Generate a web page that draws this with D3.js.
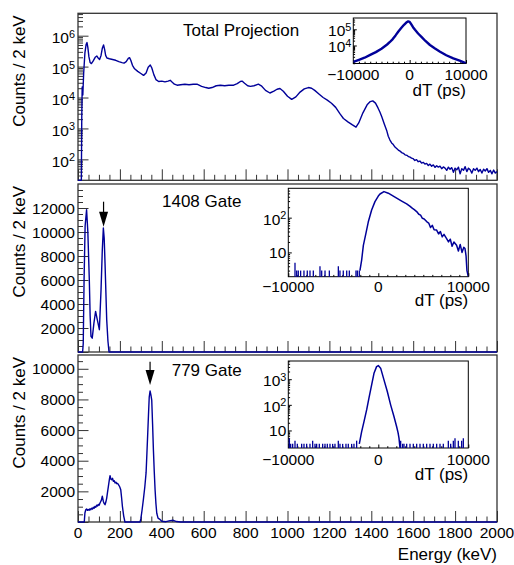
<!DOCTYPE html>
<html>
<head>
<meta charset="utf-8">
<script src="https://cdn.jsdelivr.net/npm/d3@7/dist/d3.min.js"></script>
<style>
  body { margin: 0; background: #fff; }
  text { font-family: "Liberation Sans", Arial, Helvetica, sans-serif; fill: #000; }
</style>
</head>
<body>
<div id="chart"></div>
<script>
// ---- values: [energy keV, counts / 2 keV] ----
var energyTicks = [0, 200, 400, 600, 800, 1000, 1200, 1400, 1600, 1800, 2000];

var totalProjection = [
  [0,15],[16,15],[18,2500],[20,22000],[23,12000],[27,60000],[33,280000],[39,530000],[43,600000],
  [47,420000],[52,210000],[58,135000],[64,125000],[72,150000],[82,200000],[90,220000],[96,190000],
  [103,170000],[110,230000],[116,390000],[122,500000],[127,360000],[132,230000],[138,190000],
  [150,180000],[165,170000],[180,160000],[195,145000],[210,135000],[220,130000],[230,145000],
  [240,185000],[246,195000],[252,160000],[260,110000],[270,85000],[285,70000],[300,60000],
  [313,52000],[325,62000],[335,95000],[345,112000],[352,92000],[362,55000],[372,38000],
  [385,33000],[400,34000],[415,32000],[430,34000],[440,36000],[450,31000],[460,27000],
  [473,25000],[490,26000],[510,27000],[530,26000],[550,27000],[568,27000],[590,23000],
  [610,21000],[624,20000],[640,21000],[660,24000],[680,25000],[700,24000],[720,25000],
  [743,25000],[760,28000],[775,33000],[783,34000],[795,29000],[810,24000],[823,23000],
  [840,24000],[861,27000],[875,24000],[895,17000],[916,14000],[935,16000],[950,18500],
  [964,19500],[980,16000],[1000,11000],[1020,8700],[1040,10500],[1060,15000],[1080,19000],
  [1100,21000],[1115,20000],[1130,17000],[1150,13000],[1170,10000],[1190,8200],[1210,6500],
  [1230,4800],[1250,3000],[1267,2100],[1290,1600],[1310,1300],[1327,1100],[1340,1500],
  [1360,3200],[1380,5800],[1395,7400],[1407,7800],[1420,6600],[1432,4600],[1441,3400],
  [1450,2400],[1462,1400],[1473,880],[1481,560],[1489,420],[1497,340],[1505,300],[1513,250],
  [1521,225],[1529,200],[1537,185],[1545,165],[1553,157],[1561,140],[1570,135],[1578,122],
  [1585,118],[1592,110],[1600,105],[1608,92],[1616,98],[1624,84],[1632,88],[1640,76],
  [1648,80],[1656,70],[1664,74],[1672,63],[1680,70],[1688,60],[1696,66],[1704,55],[1712,62],
  [1720,56],[1728,60],[1736,50],[1744,57],[1752,52],[1760,44],[1768,56],[1776,48],[1784,54],
  [1792,38],[1800,52],[1808,46],[1816,56],[1824,34],[1832,50],[1840,44],[1848,58],[1856,40],
  [1864,52],[1872,46],[1880,36],[1888,50],[1896,44],[1904,52],[1912,40],[1920,47],[1928,36],
  [1936,48],[1944,42],[1952,50],[1960,38],[1968,44],[1976,34],[1984,45],[1992,36],[2000,40]
];

var gate1408 = [
  [0,0],[22,0],[25,700],[29,6000],[34,10500],[41,11860],[47,10000],[54,6000],[58,3000],
  [62,1300],[68,1150],[76,2400],[84,3380],[92,2700],[102,1860],[110,5200],[116,8500],
  [121,10330],[125,9500],[129,7400],[137,2700],[143,900],[148,0],[2000,0]
];

var gate779 = [
  [0,0],[30,0],[33,590],[37,800],[41,850],[45,760],[49,820],[53,760],[57,860],[61,800],
  [65,900],[69,840],[73,960],[77,900],[81,1020],[85,960],[89,1100],[93,1040],[97,1150],
  [101,1100],[105,1240],[111,1400],[116,1680],[121,1340],[125,1200],[129,1130],[133,1300],
  [137,1560],[141,1950],[145,2330],[150,2800],[153,3020],[157,2800],[161,2760],[165,2850],
  [169,2650],[173,2700],[177,2550],[181,2600],[185,2500],[189,2520],[193,2440],[199,2300],
  [204,2110],[208,1600],[212,1020],[218,400],[224,0],[296,0],[300,200],[306,800],[312,1460],
  [319,2300],[325,3220],[329,4500],[333,5830],[337,7200],[340,8160],[344,8550],[348,8300],
  [352,7950],[356,6400],[360,4690],[364,3300],[368,2090],[372,1200],[376,570],[382,250],
  [389,190],[400,50],[420,20],[440,90],[455,110],[470,30],[490,0],[2000,0]
];

// ---- inset time spectra: [dT ps, counts] ----
var dtTicks = [-10000, 0, 10000];

var dtTotal = [
  [-10000,970],[-9000,1300],[-8000,1750],[-7000,2600],[-6000,3900],[-5000,6300],[-4000,11500],
  [-3500,16500],[-3000,25000],[-2500,42000],[-2000,73000],[-1500,120000],[-1000,190000],
  [-600,260000],[-250,310000],[0,290000],[300,200000],[600,135000],[950,93000],[1500,55000],
  [2140,33000],[2800,19000],[3600,10700],[4500,6500],[5400,4100],[6500,2500],[7750,1590],
  [9000,1100],[9820,850],[10000,800]
];

var dt1408 = [
  [-2040,3],[-1850,6],[-1660,16],[-1370,36],[-1110,76],[-740,167],[-370,290],[0,420],
  [190,480],[630,563],[1110,505],[2040,363],[2600,300],[3150,250],[3500,215],[3800,185],
  [4000,170],[4260,150],[4500,125],[4700,118],[4900,96],[5100,92],[5370,77],[5600,70],
  [5800,52],[6000,60],[6200,45],[6480,44],[6700,34],[6900,40],[7100,28],[7300,33],[7590,25],
  [7800,20],[8000,24],[8200,15],[8400,20],[8700,16],[8900,11],[9100,17],[9300,10],[9500,14],
  [9630,13],[9750,8],[9850,3],[10000,2]
];
var dt1408Noise = [
  [-9256,5],[-9070,3],[-8890,3],[-8630,3],[-8260,3],[-7890,3],[-7590,3],[-7220,3],[-6480,4],
  [-6290,3],[-5920,3],[-5440,3],[-4440,4],[-4260,3],[-3890,3],[-3510,3],[-3220,3],[-2480,3],
  [-2330,3],[-2110,3]
];

var dt779 = [
  [-2110,3],[-1850,9],[-1590,22],[-1290,65],[-1040,182],[-780,515],[-480,1700],[-190,3100],
  [0,3400],[260,2700],[630,940],[1000,330],[1370,100],[1740,35],[2040,14],[2200,8],
  [2300,5],[2410,2]
];
var dt779Noise = [
  [-9886,5],[-9737,3],[-9515,3],[-9256,4],[-8997,3],[-8516,3],[-8257,3],[-7960,3],[-7590,3],
  [-7294,4],[-7035,3],[-6850,3],[-6554,3],[-6183,3],[-5924,3],[-5665,3],[-5369,3],[-5073,3],
  [-4814,3],[-4443,4],[-4258,3],[-3962,3],[-3592,3],[-3333,3],[-2962,3],[-2703,3],[-2407,4],
  [2485,4],[2707,3],[2855,3],[3152,3],[3522,3],[3892,3],[4263,3],[4633,3],[5003,3],[5374,3],
  [5744,3],[6114,3],[6485,3],[6855,3],[7225,3],[7781,4],[8040,3],[8337,4],[8522,5],[8892,4],
  [9263,4],[9448,5]
];

// ---- drawing ----
var W = 514, H = 565;
var blue = "#000099", frameCol = "#333";
var svg = d3.select("#chart").append("svg").attr("width", W).attr("height", H);

var x = d3.scaleLinear().domain([0, 2000]).range([78, 497]);

var panels = [
  { data: totalProjection, top: 13.3, bottom: 180.3,
    y: d3.scaleLog().domain([21, 5.3e6]).range([180.3, 13.3]),
    log: true, exps: [2, 3, 4, 5, 6], title: "Total Projection", tx: 183, ty: 36 },
  { data: gate1408, top: 184, bottom: 352,
    y: d3.scaleLinear().domain([0, 14000]).range([352, 184]),
    labels: [2000, 4000, 6000, 8000, 10000, 12000], title: "1408 Gate", tx: 162, ty: 206.7,
    arrow: { e: 122, from: 12525, to: 10440 } },
  { data: gate779, top: 355, bottom: 522,
    y: d3.scaleLinear().domain([0, 10900]).range([522, 355]),
    labels: [2000, 4000, 6000, 8000, 10000], title: "779 Gate", tx: 171.7, ty: 375.7,
    arrow: { e: 344, from: 10463, to: 8943 } }
];

function ticks(g, axis, values, size, col) {
  g.call(axis.tickValues(values).tickSize(size).tickFormat(""));
  g.select(".domain").remove();
  g.selectAll("text").remove();
  g.selectAll("line").attr("stroke", col).attr("stroke-width", 1);
}

function powLabel(g, xp, yp, exp, size) {
  var t = g.append("text").attr("x", xp).attr("y", yp).attr("text-anchor", "end").attr("font-size", size);
  t.append("tspan").text("10");
  if (exp !== 1) t.append("tspan").attr("dy", -5.5).attr("font-size", size * 0.7).text(exp);
}

function logMinors(dom) {
  var out = [];
  for (var k = -1; k < 8; k++) for (var m = 2; m <= 9; m++) {
    var v = m * Math.pow(10, k);
    if (v > dom[0] && v < dom[1]) out.push(v);
  }
  return out;
}

panels.forEach(function(p, i) {
  var g = svg.append("g");
  var dom = p.y.domain();

  // ticks (inward, ROOT style)
  var majX = d3.range(0, 2001, 200), minX = d3.range(0, 2001, 50).filter(function(v) { return v % 200; });
  ticks(g.append("g").attr("transform", "translate(0," + p.bottom + ")"), d3.axisBottom(x), majX, -11, frameCol);
  ticks(g.append("g").attr("transform", "translate(0," + p.bottom + ")"), d3.axisBottom(x), minX, -5.5, frameCol);
  if (p.log) {
    ticks(g.append("g").attr("transform", "translate(78,0)"), d3.axisLeft(p.y), p.exps.map(function(e) { return Math.pow(10, e); }), -10.5, frameCol);
    ticks(g.append("g").attr("transform", "translate(78,0)"), d3.axisLeft(p.y), logMinors(dom), -5, frameCol);
    p.exps.forEach(function(e) { powLabel(g, 75, p.y(Math.pow(10, e)) + 7.5, e, 15.5); });
  } else {
    var maj = d3.range(0, dom[1], 2000), mn = d3.range(500, dom[1], 500).filter(function(v) { return v % 2000; });
    ticks(g.append("g").attr("transform", "translate(78,0)"), d3.axisLeft(p.y), maj, -10.5, frameCol);
    ticks(g.append("g").attr("transform", "translate(78,0)"), d3.axisLeft(p.y), mn, -5, frameCol);
    g.selectAll(".ylab").data(p.labels).enter().append("text")
      .attr("x", 75).attr("y", function(d) { return p.y(d) + 5.7; })
      .attr("text-anchor", "end").attr("font-size", 15.5).text(function(d) { return d; });
  }

  // frame
  g.append("rect").attr("x", 78).attr("y", p.top).attr("width", 419).attr("height", p.bottom - p.top)
    .attr("fill", "none").attr("stroke", frameCol).attr("stroke-width", 1.3);

  // data
  svg.append("clipPath").attr("id", "clip" + i).append("rect")
    .attr("x", 77).attr("y", p.top - 1).attr("width", 421).attr("height", p.bottom - p.top + 2);
  var line = d3.line()
    .x(function(d) { return x(d[0]); })
    .y(function(d) { return p.y(Math.max(d[1], dom[0])); });
  g.append("path").datum(p.data).attr("d", line).attr("clip-path", "url(#clip" + i + ")")
    .attr("fill", "none").attr("stroke", blue).attr("stroke-width", 1.4).attr("stroke-linejoin", "round");

  // y title
  g.append("text").attr("transform", "translate(25," + (p.top + 2) + ") rotate(-90)")
    .attr("text-anchor", "end").attr("font-size", 17).text("Counts / 2 keV");

  // label
  g.append("text").attr("x", p.tx).attr("y", p.ty).attr("font-size", 17).text(p.title);

  // arrow
  if (p.arrow) {
    var ax = x(p.arrow.e), y0 = p.y(p.arrow.from), y1 = p.y(p.arrow.to);
    g.append("line").attr("x1", ax).attr("x2", ax).attr("y1", y0).attr("y2", y1 - 10)
      .attr("stroke", "#000").attr("stroke-width", 1.2);
    g.append("path").attr("d", "M" + (ax - 4.5) + "," + (y1 - 15) + "L" + (ax + 4.5) + "," + (y1 - 15) + "L" + ax + "," + y1 + "Z")
      .attr("fill", "#000");
  }
});

// energy tick labels and title
svg.selectAll(".xlab").data(energyTicks).enter().append("text")
  .attr("x", function(d) { return x(d); }).attr("y", 538)
  .attr("text-anchor", "middle").attr("font-size", 15.5).text(function(d) { return d; });
svg.append("text").attr("x", 497).attr("y", 560).attr("text-anchor", "end").attr("font-size", 17).text("Energy (keV)");

// ---- insets ----
var insets = [
  { data: dtTotal, noise: [], x0: 353.3, x1: 466, top: 18, bottom: 63.5, dom: [770, 5e5], exps: [4, 5],
    lab: 80, tit: 95.5, width: 2.4 },
  { data: dt1408, noise: dt1408Noise, x0: 288.3, x1: 468.3, top: 188.3, bottom: 276.7, dom: [2, 700], exps: [1, 2],
    lab: 292, tit: 306, width: 1.5 },
  { data: dt779, noise: dt779Noise, x0: 288.3, x1: 468.3, top: 361, bottom: 448, dom: [2.07, 5130], exps: [1, 2, 3],
    lab: 465, tit: 479.5, width: 1.5 }
];

insets.forEach(function(s, i) {
  var g = svg.append("g");
  var ix = d3.scaleLinear().domain([-10000, 10000]).range([s.x0, s.x1]);
  var iy = d3.scaleLog().domain(s.dom).range([s.bottom, s.top]);

  g.append("rect").attr("x", s.x0).attr("y", s.top).attr("width", s.x1 - s.x0).attr("height", s.bottom - s.top)
    .attr("fill", "#fff").attr("stroke", "#000").attr("stroke-width", 1);

  ticks(g.append("g").attr("transform", "translate(0," + s.bottom + ")"), d3.axisBottom(ix), dtTicks, -3.5, "#000");
  ticks(g.append("g").attr("transform", "translate(0," + s.bottom + ")"), d3.axisBottom(ix),
    d3.range(-9000, 10000, 1000).filter(function(v) { return v !== 0; }), -1.8, "#000");
  ticks(g.append("g").attr("transform", "translate(" + s.x0 + ",0)"), d3.axisLeft(iy),
    s.exps.map(function(e) { return Math.pow(10, e); }), -3.5, "#000");
  ticks(g.append("g").attr("transform", "translate(" + s.x0 + ",0)"), d3.axisLeft(iy), logMinors(s.dom), -1.8, "#000");

  svg.append("clipPath").attr("id", "iclip" + i).append("rect")
    .attr("x", s.x0).attr("y", s.top).attr("width", s.x1 - s.x0).attr("height", s.bottom - s.top);

  var line = d3.line()
    .x(function(d) { return ix(d[0]); })
    .y(function(d) { return iy(Math.max(d[1], s.dom[0])); });
  g.append("path").datum(s.data).attr("d", line).attr("clip-path", "url(#iclip" + i + ")")
    .attr("fill", "none").attr("stroke", blue).attr("stroke-width", s.width).attr("stroke-linejoin", "round");

  g.selectAll(".spike").data(s.noise).enter().append("line")
    .attr("x1", function(d) { return ix(d[0]); }).attr("x2", function(d) { return ix(d[0]); })
    .attr("y1", s.bottom).attr("y2", function(d) { return iy(d[1]); })
    .attr("stroke", blue).attr("stroke-width", 1.3);

  s.exps.forEach(function(e) { powLabel(g, s.x0 - 2, iy(Math.pow(10, e)) + (e === 1 ? 6 : 7), e, 15.5); });

  g.selectAll(".dlab").data(dtTicks).enter().append("text")
    .attr("x", function(d) { return ix(d); }).attr("y", s.lab)
    .attr("text-anchor", "middle").attr("font-size", 15.5)
    .text(function(d) { return d < 0 ? "\u2212" + Math.abs(d) : d; });
  g.append("text").attr("x", s.x1).attr("y", s.tit).attr("text-anchor", "end").attr("font-size", 17).text("dT (ps)");
});
</script>
</body>
</html>
